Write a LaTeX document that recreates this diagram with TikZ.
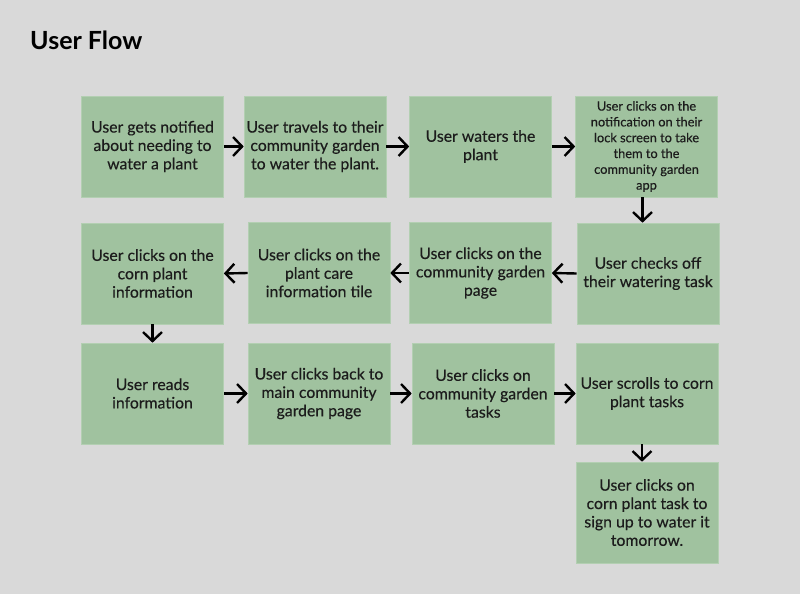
\documentclass[tikz,border=0pt]{standalone}
\usepackage{fontspec}
\setmainfont{Lato}[FakeBold=0.35]
\newfontfamily\titlefont{Lato Bold}
\usetikzlibrary{arrows.meta}
\definecolor{bg}{HTML}{D9D9D9}
\definecolor{boxfill}{HTML}{A0C29F}
\definecolor{boxline}{HTML}{B3CFB2}
\definecolor{ink}{HTML}{1C1C1C}
\tikzset{
  stepbox/.style={fill=boxfill, draw=boxline, line width=0.6pt, minimum width=142pt, minimum height=101pt,
    inner sep=0pt, align=center, text=ink, font=\fontsize{15.8}{18.4}\selectfont},
  smallbox/.style={stepbox, font=\fontsize{12.8}{15.8}\selectfont},
  arr/.style={draw=black, line width=2.4pt, -{Straight Barb[length=9pt,width=19pt]}},
}
\begin{document}
\begin{tikzpicture}[x=1pt,y=-1pt]
\fill[bg] (0,0) rectangle (800,594);
\useasboundingbox (0,0) rectangle (800,594);
\node[anchor=base west, font=\titlefont\fontsize{25}{28}\selectfont, text=black, inner sep=0pt] (title) at (30,49) {User Flow};

\node[stepbox] (a) at (152.5,146.5) {User gets notified\\about needing to\\water a plant};
\node[stepbox] (b) at (315,146.5) {User travels to their\\community garden\\to water the plant.};
\node[stepbox] (c) at (480.5,146.5) {User waters the\\plant};
\node[smallbox] (d) at (646.5,146.5) {User clicks on the\\notification on their\\lock screen to take\\them to the\\community garden\\app};

\node[stepbox] (e) at (152.5,273.5) {User clicks on the\\corn plant\\information};
\node[stepbox] (f) at (319,273) {User clicks on the\\plant care\\information tile};
\node[stepbox] (g) at (480.5,273) {User clicks on the\\community garden\\page};
\node[stepbox] (h) at (648,273.5) {User checks off\\their watering task};

\node[stepbox] (i) at (152.5,393.5) {User reads\\information};
\node[stepbox] (j) at (319,393.5) {User clicks back to\\main community\\garden page};
\node[stepbox] (k) at (483,393.5) {User clicks on\\community garden\\tasks};
\node[stepbox] (l) at (647,393.5) {User scrolls to corn\\plant tasks};
\node[stepbox] (m) at (647,512.5) {User clicks on\\corn plant task to\\sign up to water it\\tomorrow.};

\draw[arr] (a.east) -- (b.west);
\draw[arr] (b.east) -- (c.west);
\draw[arr] (c.east) -- (d.west);
\draw[arr] ([xshift=-4pt]d.south) -- ([xshift=-4pt]d.south |- h.north);
\draw[arr] (h.west) -- (g.east);
\draw[arr] (g.west) -- (f.east);
\draw[arr] (f.west) -- (e.east);
\draw[arr] (e.south) -- (e.south |- i.north);
\draw[arr] (i.east) -- (j.west);
\draw[arr] (j.east) -- (k.west);
\draw[arr] (k.east) -- (l.west);
\draw[arr] ([xshift=-5pt]l.south) -- ([xshift=-5pt]l.south |- m.north);
\end{tikzpicture}
\end{document}
